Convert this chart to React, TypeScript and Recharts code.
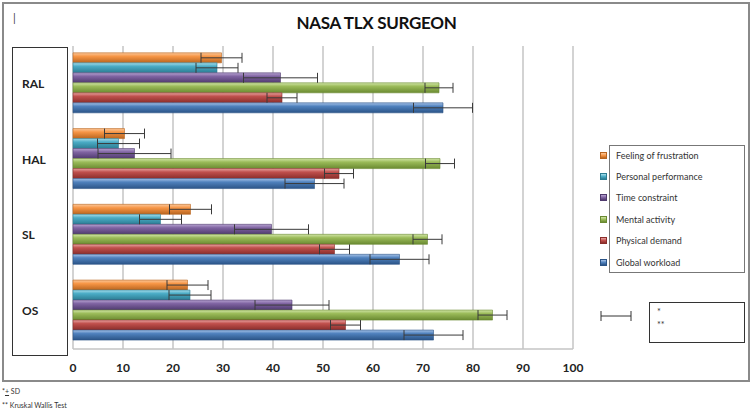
import React from 'react';
import { BarChart, Bar, XAxis, YAxis, CartesianGrid, ErrorBar, Legend } from 'recharts';

const groups = ['RAL', 'HAL', 'SL', 'OS'];
const frustration = [29.7, 10.3, 23.5, 22.9];
const frustrationSd = [4.1, 4.0, 4.2, 4.1];
const personal = [28.8, 9.1, 17.5, 23.4];
const personalSd = [4.2, 4.2, 4.2, 4.2];
const timeConstraint = [41.5, 12.3, 39.7, 43.8];
const timeSd = [7.4, 7.3, 7.4, 7.4];
const mental = [73.2, 73.4, 70.9, 83.9];
const mentalSd = [2.8, 2.9, 2.9, 2.9];
const physical = [41.8, 53.2, 52.3, 54.5];
const physicalSd = [3.0, 2.9, 3.0, 3.0];
const globalWorkload = [74.0, 48.3, 65.3, 72.1];
const globalSd = [5.9, 5.9, 5.9, 5.9];
const xTicks = [0, 10, 20, 30, 40, 50, 60, 70, 80, 90, 100];

const series = [
  { key: 'frustration', name: 'Feeling of frustration', values: frustration, sd: frustrationSd, light: '#FBC89B', base: '#F79646', dark: '#B9651F' },
  { key: 'personal', name: 'Personal performance', values: personal, sd: personalSd, light: '#A6DDEB', base: '#4BACC6', dark: '#2C7C92' },
  { key: 'time', name: 'Time constraint', values: timeConstraint, sd: timeSd, light: '#B7A3D1', base: '#8064A2', dark: '#4F3A6E' },
  { key: 'mental', name: 'Mental activity', values: mental, sd: mentalSd, light: '#D2E6A8', base: '#9BBB59', dark: '#6A8A31' },
  { key: 'physical', name: 'Physical demand', values: physical, sd: physicalSd, light: '#E8A3A1', base: '#C0504D', dark: '#8A2D2A' },
  { key: 'global', name: 'Global workload', values: globalWorkload, sd: globalSd, light: '#A7C3E8', base: '#4F81BD', dark: '#2B5487' },
];

const data = groups.map((g, i) => {
  const row: Record<string, any> = { group: g };
  series.forEach((s) => {
    row[s.key] = s.values[i];
    row[s.key + 'Sd'] = s.sd[i];
  });
  return row;
});

const FONT = 'Lato, "Open Sans", sans-serif';

const CategoryTick = (props: any) => {
  const { y, payload } = props;
  return (
    <text x={22} y={y} dy={4} fontSize={12} fontWeight="bold" fill="#222" fontFamily={FONT}>
      {payload.value}
    </text>
  );
};

const renderLegend = () => (
  <div style={{ position: 'relative', width: 145, height: 128, fontFamily: FONT }}>
    <div style={{ position: 'absolute', left: 9, top: 0, width: 134, height: 126, border: '1px solid #777', background: '#fff' }} />
    {series.map((s, i) => (
      <div key={s.key} style={{ position: 'absolute', left: 0, top: 4 + i * 21.4, height: 12, display: 'flex', alignItems: 'center' }}>
        <div style={{ width: 7, height: 7, background: `linear-gradient(${s.light}, ${s.base} 50%, ${s.dark})`, border: `1px solid ${s.dark}`, boxSizing: 'border-box' }} />
        <span style={{ marginLeft: 9, fontSize: 9, color: '#333', whiteSpace: 'nowrap' }}>{s.name}</span>
      </div>
    ))}
  </div>
);

export default function App() {
  return (
    <div style={{ position: 'absolute', left: 0, top: 0, width: 753, height: 414, background: '#fff', fontFamily: FONT, overflow: 'hidden' }}>
      <div style={{ position: 'absolute', left: 2, top: 2, width: 744, height: 376, border: '2px solid #8a8a8a' }} />
      <div style={{ position: 'absolute', left: 12, top: 47, width: 54, height: 307, border: '1px solid #333' }} />
      <div style={{ position: 'absolute', left: 13, top: 11, fontSize: 11, color: '#444' }}>|</div>
      <div style={{ position: 'absolute', left: 0, top: 12, width: 753, textAlign: 'center', fontSize: 17, fontWeight: 'bold', color: '#111', letterSpacing: -0.3 }}>
        NASA TLX SURGEON
      </div>
      <div style={{ position: 'absolute', left: 0, top: 0 }}>
        <BarChart
          width={753}
          height={414}
          data={data}
          layout="vertical"
          margin={{ top: 46, right: 180, bottom: 35, left: 12 }}
          barCategoryGap="9%"
          barGap={0}
        >
          <defs>
            {series.map((s) => (
              <linearGradient key={s.key} id={'grad-' + s.key} x1="0" y1="0" x2="0" y2="1">
                <stop offset="0%" stopColor={s.light} />
                <stop offset="35%" stopColor={s.base} />
                <stop offset="100%" stopColor={s.dark} />
              </linearGradient>
            ))}
          </defs>
          <CartesianGrid vertical horizontal={false} stroke="#c4c4c4" strokeWidth={1.5} />
          <XAxis
            type="number"
            domain={[0, 100]}
            ticks={xTicks}
            interval={0}
            height={30}
            tickLine={false}
            axisLine={{ stroke: '#c4c4c4', strokeWidth: 1.5 }}
            tick={{ fontSize: 12, fontWeight: 'bold', fill: '#222', fontFamily: FONT }}
            tickMargin={8}
          />
          <YAxis type="category" dataKey="group" width={61} axisLine={false} tickLine={false} tick={<CategoryTick />} />
          <Legend
            layout="horizontal"
            verticalAlign="middle"
            align="center"
            content={renderLegend}
            wrapperStyle={{ position: 'absolute', left: 600, top: 145, width: 145, height: 128 }}
          />
          {series.map((s) => (
            <Bar
              key={s.key}
              dataKey={s.key}
              name={s.name}
              fill={`url(#grad-${s.key})`}
              stroke={s.dark}
              strokeWidth={0.6}
              isAnimationActive={false}
            >
              <ErrorBar dataKey={s.key + 'Sd'} direction="x" width={5} stroke="#3a3a3a" strokeWidth={1} />
            </Bar>
          ))}
        </BarChart>
      </div>
      <svg style={{ position: 'absolute', left: 598, top: 308 }} width={36} height={16}>
        <line x1={3} y1={8} x2={33} y2={8} stroke="#333" strokeWidth={1} />
        <line x1={3} y1={3} x2={3} y2={13} stroke="#333" strokeWidth={1} />
        <line x1={33} y1={3} x2={33} y2={13} stroke="#333" strokeWidth={1} />
      </svg>
      <div style={{ position: 'absolute', left: 649, top: 302, width: 94, height: 39, border: '1px solid #333', fontSize: 9, color: '#333' }}>
        <div style={{ position: 'absolute', left: 7, top: 3 }}>*</div>
        <div style={{ position: 'absolute', left: 7, top: 16 }}>**</div>
      </div>
      <div style={{ position: 'absolute', left: 2, top: 387, fontSize: 7, color: '#333' }}>
        *<span style={{ textDecoration: 'underline' }}>+</span> SD
      </div>
      <div style={{ position: 'absolute', left: 2, top: 401, fontSize: 7, color: '#333' }}>** Kruskal Wallis Test</div>
    </div>
  );
}
